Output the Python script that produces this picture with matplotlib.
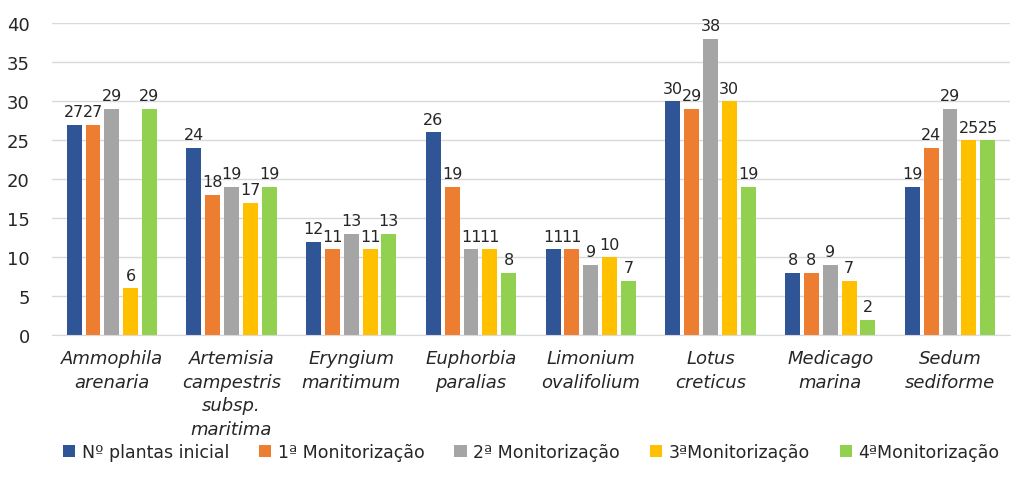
import matplotlib.pyplot as plt
import numpy as np

# dados
especies = ["Ammophila\narenaria", "Artemisia\ncampestris\nsubsp.\nmaritima",
            "Eryngium\nmaritimum", "Euphorbia\nparalias", "Limonium\novalifolium",
            "Lotus\ncreticus", "Medicago\nmarina", "Sedum\nsediforme"]
series = ["Nº plantas inicial", "1ª Monitorização", "2ª Monitorização",
          "3ªMonitorização", "4ªMonitorização"]
inicial = [27, 24, 12, 26, 11, 30, 8, 19]
mon1 = [27, 18, 11, 19, 11, 29, 8, 24]
mon2 = [29, 19, 13, 11, 9, 38, 9, 29]
mon3 = [6, 17, 11, 11, 10, 30, 7, 25]
mon4 = [29, 19, 13, 8, 7, 19, 2, 25]

valores = [inicial, mon1, mon2, mon3, mon4]
cores = ['#2F5597', '#ED7D31', '#A5A5A5', '#FFC000', '#92D050']

plt.rcParams["font.family"] = "DejaVu Sans"

fig = plt.figure(figsize=(10.18, 4.85), dpi=100)
ax = fig.add_axes([0.051, 0.307, 0.941, 0.643])

x = np.arange(len(especies))
passo = 0.157
largura = 0.125

for i in range(5):
    pos = x + (i - 2) * passo
    barras = ax.bar(pos, valores[i], largura, color=cores[i], label=series[i], zorder=2)
    ax.bar_label(barras, padding=4, fontsize=11.5, color='#262626')

ax.set_xlim(-0.5, len(especies) - 0.5)
ax.set_ylim(0, 40)
ax.set_yticks(range(0, 41, 5))
ax.tick_params(axis='y', labelsize=13, length=0, pad=16, colors='#262626')
ax.set_xticks(x)
ax.set_xticklabels(especies, fontsize=13, style='italic', color='#262626',
                   linespacing=1.4)
ax.tick_params(axis='x', length=0, pad=10)
ax.grid(axis='y', color='#D9D9D9', linewidth=1, zorder=0)
for s in ['top', 'right', 'left']:
    ax.spines[s].set_visible(False)
ax.spines['bottom'].set_color('#D9D9D9')

fig.legend(loc='center', bbox_to_anchor=(0.522, 0.065), ncol=5, frameon=False,
           fontsize=12.5, handlelength=0.7, handleheight=0.7, handletextpad=0.4,
           columnspacing=1.7, labelcolor='#262626')

plt.savefig("out.png", dpi=100)
